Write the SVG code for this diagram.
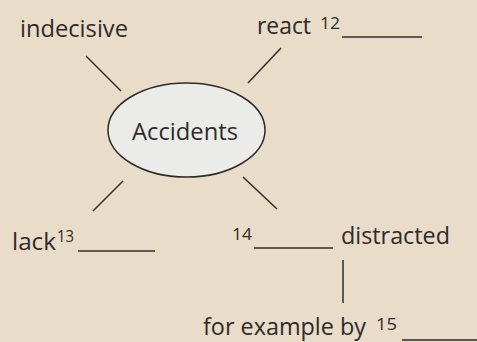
<svg xmlns="http://www.w3.org/2000/svg" width="477" height="342" viewBox="0 0 477 342">
<style>
text{font-family:"Open Sans","Noto Sans",sans-serif;fill:#2e2b28;}
.t{font-size:23px;}
.s{font-size:16px;}
.c{stroke:#2e2b28;stroke-width:1.5;fill:none;}
.u{stroke:#2e2b28;stroke-width:1.6;}
</style>
<rect width="477" height="342" fill="#e9dcc9"/>
<g id="connectors">
<line class="c" x1="86" y1="56" x2="121" y2="91"/>
<line class="c" x1="281" y1="48" x2="248" y2="83"/>
<line class="c" x1="123" y1="181" x2="93" y2="211"/>
<line class="c" x1="243" y1="177" x2="277" y2="209"/>
<line class="c" x1="343" y1="260" x2="343" y2="303"/>
</g>
<g id="accidents">
<ellipse cx="186.5" cy="130" rx="78.5" ry="47" fill="#ebebe9" stroke="#2e2b28" stroke-width="1.5"/>
<text class="t" x="132" y="140" textLength="106" lengthAdjust="spacingAndGlyphs">Accidents</text>
</g>
<g id="indecisive">
<text class="t" x="20" y="37" textLength="108" lengthAdjust="spacingAndGlyphs">indecisive</text>
</g>
<g id="react">
<text class="t" x="257" y="34" textLength="54" lengthAdjust="spacingAndGlyphs">react</text>
<text class="s" x="320" y="29" textLength="20" lengthAdjust="spacingAndGlyphs">12</text>
<line class="u" x1="342" y1="37" x2="422" y2="37"/>
</g>
<g id="lack">
<text class="t" x="12" y="250" textLength="44" lengthAdjust="spacingAndGlyphs">lack</text>
<text class="s" x="57" y="242" textLength="17" lengthAdjust="spacingAndGlyphs">13</text>
<line class="u" x1="78" y1="251" x2="155" y2="251"/>
</g>
<g id="distracted">
<text class="s" x="232" y="240" textLength="20" lengthAdjust="spacingAndGlyphs">14</text>
<line class="u" x1="254" y1="248" x2="333" y2="248"/>
<text class="t" x="341" y="244" textLength="109" lengthAdjust="spacingAndGlyphs">distracted</text>
</g>
<g id="example">
<text class="t" x="203" y="335" textLength="163" lengthAdjust="spacingAndGlyphs">for example by</text>
<text class="s" x="376" y="330" textLength="21" lengthAdjust="spacingAndGlyphs">15</text>
<line class="u" x1="402" y1="340" x2="477" y2="340"/>
</g>
</svg>
